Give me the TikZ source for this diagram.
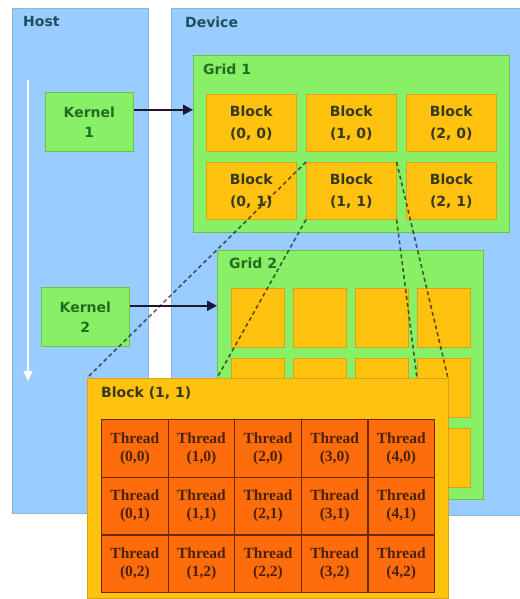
\documentclass[tikz,border=0pt]{standalone}
\usepackage{fontspec}
\setmainfont{DejaVu Sans}
\newfontfamily\threadfont{Liberation Serif}
\usetikzlibrary{arrows.meta,positioning,calc}
\definecolor{panel}{HTML}{99CCFF}
\definecolor{panelrim}{HTML}{8DB6DE}
\definecolor{leaf}{HTML}{88F066}
\definecolor{leafrim}{HTML}{6CC24E}
\definecolor{amber}{HTML}{FFC20E}
\definecolor{amberrim}{HTML}{D9A21A}
\definecolor{flame}{HTML}{FF6C0C}
\definecolor{flamerim}{HTML}{6B2A00}
\definecolor{hosttxt}{HTML}{1F4F5F}
\definecolor{greentxt}{HTML}{236B23}
\definecolor{blocktxt}{HTML}{38381C}
\definecolor{threadtxt}{HTML}{4A2200}
\definecolor{navy}{HTML}{1A1A33}
\tikzset{
  base/.style={anchor=north west, inner sep=0pt, align=center},
  pane/.style={base, fill=panel, draw=panelrim, line width=0.6pt},
  leafbox/.style={base, fill=leaf, draw=leafrim, line width=0.6pt},
  kern/.style={leafbox, minimum width=88pt, minimum height=59pt, text=greentxt, font=\bfseries\fontsize{14}{20}\selectfont},
  blk/.style={base, fill=amber, draw=amberrim, line width=0.6pt, text=blocktxt, font=\bfseries\fontsize{14}{22}\selectfont},
  thr/.style={base, fill=flame, draw=flamerim, line width=1.1pt, minimum width=66.6pt, minimum height=57.7pt, text=threadtxt, font=\threadfont\bfseries\fontsize{15.5}{18}\selectfont},
  labtxt/.style={anchor=base west, inner sep=0pt, font=\bfseries\fontsize{14}{16}\selectfont},
  arr/.style={-{Triangle[length=10pt,width=10pt]}, line width=2pt, draw=navy},
  flow/.style={-{Triangle[length=10pt,width=9pt]}, line width=1.6pt, draw=white},
  zoomline/.style={dash pattern=on 4pt off 3pt, line width=1.6pt, draw=black, draw opacity=0.6},
}
\begin{document}
\begin{tikzpicture}[x=1pt, y=-1pt]
  \useasboundingbox (0,0) rectangle (519,599);
  \node[pane, minimum width=136pt, minimum height=505pt] (host) at (12,8) {};
  \node[pane, minimum width=350pt, minimum height=507pt] (device) at (171,8) {};
  \node[labtxt, text=hosttxt] (hostlab) at (23,27) {Host};
  \node[labtxt, text=hosttxt] (devlab) at (185,28) {Device};
  \coordinate (flowtop) at (28,80);
  \coordinate (flowend) at (28,381);
  \draw[flow] (flowtop) -- (flowend);
  \node[kern] (k1) at (45,92) {Kernel\\1};
  \node[kern] (k2) at (41,287) {Kernel\\2};
  \node[leafbox, minimum width=316pt, minimum height=177pt] (grid1) at (193,55) {};
  \node[labtxt, text=greentxt] (g1lab) at (203,75) {Grid 1};
  \foreach \i in {0,1,2} {
    \foreach \j in {0,1} {
      \node[blk, minimum width=90pt, minimum height=57pt] (b\i\j) at ({206+100*\i},{94+68*\j}) {Block\\(\i, \j)};
    }
  }
  \node[leafbox, minimum width=266pt, minimum height=249pt] (grid2) at (217,250) {};
  \node[labtxt, text=greentxt] (g2lab) at (229,268) {Grid 2};
  \foreach \i in {0,...,3} {
    \foreach \j in {0,1,2} {
      \node[blk, minimum width=53pt, minimum height=59pt] (c\i\j) at ({231+62*\i},{288+70*\j}) {};
    }
  }
  \coordinate (k1out) at ([yshift=12pt]k1.east);
  \coordinate (k2out) at ([yshift=11pt]k2.east);
  \draw[arr] (k1out) -- (k1out -| grid1.west);
  \draw[arr] (k2out) -- (k2out -| grid2.west);
  \coordinate (zll) at (87,378);
  \coordinate (zl) at (217,378);
  \coordinate (zr) at (417,378);
  \coordinate (zrr) at (448,378);
  \draw[zoomline] (b11.north west) -- (zll);
  \draw[zoomline] (b11.north east) -- (zrr);
  \draw[zoomline] (b11.south west) -- (zl);
  \draw[zoomline] (b11.south east) -- (zr);
  \node[blk, minimum width=361pt, minimum height=220pt] (big) at (zll) {};
  \node[labtxt, text=blocktxt] (biglab) at (101,397) {Block (1, 1)};
  \foreach \i in {0,...,4} {
    \foreach \j in {0,1,2} {
      \node[thr] (t\i\j) at ({101+66.6*\i},{419+57.7*\j}) {Thread\\(\i,\j)};
    }
  }
\end{tikzpicture}
\end{document}
